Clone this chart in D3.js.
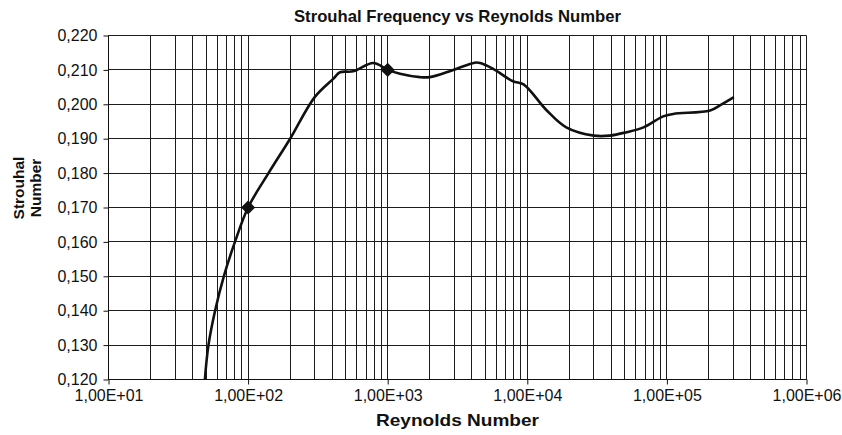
<!DOCTYPE html>
<html>
<head>
<meta charset="utf-8">
<script src="https://cdn.jsdelivr.net/npm/d3@7"></script>
<style>
  html, body { margin: 0; padding: 0; background: #fff; }
  svg { display: block; }
  text { font-family: "Liberation Sans", Arial, Helvetica, sans-serif; fill: #111; }
</style>
</head>
<body>
<svg id="chart" width="842" height="435"></svg>
<script>
// ---- data ----
const reynolds = [49, 52, 58, 67, 80.5, 100, 140, 200, 300, 407, 455, 567, 789, 1000, 1225, 1700, 2000, 2950, 4200, 4600, 5700, 7900, 9400, 13800, 19000, 30000, 39000, 51500, 68000, 94000, 111000, 204000, 240000, 302000];
const strouhal = [0.120, 0.130, 0.140, 0.150, 0.160, 0.170, 0.180, 0.190, 0.2021, 0.2074, 0.2093, 0.2096, 0.2120, 0.2100, 0.2089, 0.2079, 0.2079, 0.2100, 0.2121, 0.2120, 0.2103, 0.2067, 0.2058, 0.1982, 0.1933, 0.1909, 0.1909, 0.1919, 0.1933, 0.1965, 0.1972, 0.1982, 0.1997, 0.2021];
const markerRe = [100, 1000];
const markerSt = [0.170, 0.210];
const xTickValues = [1e1, 1e2, 1e3, 1e4, 1e5, 1e6];
const xTickLabels = ["1,00E+01", "1,00E+02", "1,00E+03", "1,00E+04", "1,00E+05", "1,00E+06"];
const yTickValues = [0.120, 0.130, 0.140, 0.150, 0.160, 0.170, 0.180, 0.190, 0.200, 0.210, 0.220];
const yTickLabels = ["0,120", "0,130", "0,140", "0,150", "0,160", "0,170", "0,180", "0,190", "0,200", "0,210", "0,220"];
const titleText = "Strouhal Frequency vs Reynolds Number";
const xTitle = "Reynolds Number";
const yTitleLines = ["Strouhal", "Number"];

// ---- layout ----
const svg = d3.select("#chart");
const L = 108.5, R = 806.5, T = 35.5, B = 379.5;

const x = d3.scaleLog().domain([1e1, 1e6]).range([L, R]);
const y = d3.scaleLinear().domain([0.120, 0.220]).range([B, T]);

// minor + major vertical gridlines
const vGrid = [];
for (let e = 1; e < 6; e++) for (let m = 1; m <= 9; m++) vGrid.push(m * Math.pow(10, e));
vGrid.push(1e6);

const grid = svg.append("g").attr("stroke", "#1c1c1c").attr("stroke-width", 1);
grid.selectAll("line.v").data(vGrid).join("line")
  .attr("class", "v")
  .attr("x1", d => Math.round(x(d) - 0.5) + 0.5).attr("x2", d => Math.round(x(d) - 0.5) + 0.5)
  .attr("y1", T).attr("y2", B);
grid.selectAll("line.h").data(yTickValues).join("line")
  .attr("class", "h")
  .attr("x1", L).attr("x2", R)
  .attr("y1", d => Math.round(y(d) - 0.5) + 0.5).attr("y2", d => Math.round(y(d) - 0.5) + 0.5);

// axes
const yAxis = d3.axisLeft(y).tickValues(yTickValues)
  .tickFormat((d, i) => yTickLabels[i]).tickSize(5).tickPadding(6);
const gy = svg.append("g").attr("transform", `translate(${L},0)`).call(yAxis);
gy.select(".domain").attr("stroke", "#111").attr("d", `M0,${T}V${B}`);
gy.selectAll(".tick line").attr("stroke", "#111");
gy.selectAll(".tick text").style("font-size", "16px").attr("fill", "#111")
  .attr("font-family", null);

const xAxis = d3.axisBottom(x).tickValues(xTickValues)
  .tickFormat((d, i) => xTickLabels[i]).tickSize(5).tickPadding(5);
const gx = svg.append("g").attr("transform", `translate(0,${B})`).call(xAxis);
gx.select(".domain").attr("stroke", "#111").attr("d", `M${L},0H${R}`);
gx.selectAll(".tick line").attr("stroke", "#111");
gx.selectAll(".tick text").style("font-size", "16px").attr("fill", "#111")
  .attr("font-family", null);

// clip
svg.append("clipPath").attr("id", "clip").append("rect")
  .attr("x", L).attr("y", T - 10).attr("width", R - L).attr("height", B - T + 10);

// curve
const pts = reynolds.map((r, i) => [r, strouhal[i]]);
const line = d3.line().x(d => x(d[0])).y(d => y(d[1])).curve(d3.curveCatmullRom.alpha(0.5));
svg.append("path").datum(pts)
  .attr("clip-path", "url(#clip)")
  .attr("fill", "none").attr("stroke", "#111").attr("stroke-width", 2.6)
  .attr("stroke-linejoin", "round").attr("d", line);

// markers
const sym = d3.symbol().type(d3.symbolSquare).size(100);
svg.selectAll("path.mk").data(markerRe.map((r, i) => [r, markerSt[i]])).join("path")
  .attr("class", "mk")
  .attr("d", sym)
  .attr("fill", "#111")
  .attr("transform", d => `translate(${x(d[0])},${y(d[1])}) rotate(45)`);

// titles
svg.append("text").attr("x", (L + R) / 2).attr("y", 21.5).attr("text-anchor", "middle")
  .style("font-size", "16.5px").style("font-weight", "bold").text(titleText)
  .attr("textLength", 327).attr("lengthAdjust", "spacingAndGlyphs");

svg.append("text").attr("x", (L + R) / 2).attr("y", 426).attr("text-anchor", "middle")
  .style("font-size", "16.5px").style("font-weight", "bold").text(xTitle)
  .attr("textLength", 163).attr("lengthAdjust", "spacingAndGlyphs");

const yt = svg.append("text").attr("transform", "translate(24,188) rotate(-90)")
  .attr("text-anchor", "middle").style("font-size", "15.5px").style("font-weight", "bold");
yt.selectAll("tspan").data(yTitleLines).join("tspan")
  .attr("x", 0).attr("dy", (d, i) => i === 0 ? 0 : 16.5).text(d => d);
</script>
</body>
</html>
